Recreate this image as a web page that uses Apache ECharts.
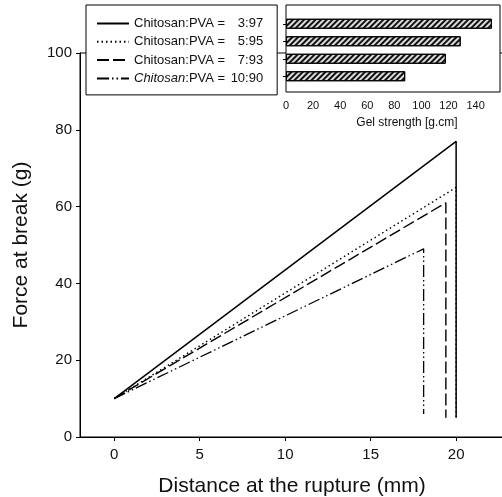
<!DOCTYPE html>
<html>
<head>
<meta charset="utf-8">
<script src="https://cdn.jsdelivr.net/npm/echarts@6/dist/echarts.min.js"></script>
<style>html,body{margin:0;padding:0;background:#fff}#c{width:502px;height:497px}</style>
</head>
<body>
<div id="c"></div>
<script>
// ---- data ----
const ratios = ['3:97', '5:95', '7:93', '10:90'];
const curve397 = [[0, 10], [20, 77], [20, 5]];
const curve595 = [[0, 10], [20, 65], [20, 5]];
const curve793 = [[0, 10], [19.4, 61], [19.4, 5]];
const curve1090 = [[0, 10], [18.1, 49], [18.1, 6]];
const gelStrength = [152, 129, 118, 88];
const xTicks = [0, 5, 10, 15, 20];
const yTicks = [0, 20, 40, 60, 80, 100];

const FONT = 'Liberation Sans, Arial, sans-serif';
const curves = [curve397, curve595, curve793, curve1090];
const dashes = ['solid', [1.5, 3], [12, 4], [12, 3, 1.5, 3, 1.5, 3]];
const widths = [1.5, 1.4, 1.4, 1.3];
const names = ratios.map(r => 'Chitosan:PVA = ' + r);

const chart = echarts.init(document.getElementById('c'), null, {renderer: 'canvas'});
const option = {
  backgroundColor: '#fff',
  animation: false,
  grid: [
    {left: 80, top: 53, right: -2, bottom: 60, show: true, borderColor: '#000', borderWidth: 1, backgroundColor: 'transparent', outerBoundsMode: 'none', containLabel: false},
    {left: 286, top: 15, width: 214, height: 70, outerBoundsMode: 'none', containLabel: false}
  ],
  xAxis: [
    {
      type: 'value', gridIndex: 0, min: -2, max: 22.8,
      name: 'Distance at the rupture (mm)', nameLocation: 'middle', nameGap: 39,
      nameTextStyle: {fontFamily: FONT, fontSize: 21, color: '#111'},
      axisLine: {onZero: false, lineStyle: {color: '#000', width: 1}},
      axisTick: {show: true, inside: false, length: 4, customValues: xTicks, lineStyle: {color: '#000'}},
      axisLabel: {customValues: xTicks, fontFamily: FONT, fontSize: 15, color: '#111', margin: 10},
      splitLine: {show: false}
    },
    {
      type: 'value', gridIndex: 1, min: 0, max: 158, interval: 20, offset: 7,
      name: 'Gel strength [g.cm]', nameLocation: 'middle', nameGap: 25,
      nameTextStyle: {fontFamily: FONT, fontSize: 12, color: '#111', padding: [0, 0, 0, 28]},
      axisLine: {show: false},
      axisTick: {show: false},
      axisLabel: {fontFamily: FONT, fontSize: 11, color: '#111', margin: 8, showMaxLabel: false},
      splitLine: {show: false}
    }
  ],
  yAxis: [
    {
      type: 'value', gridIndex: 0, min: 0, max: 100, interval: 20,
      name: 'Force at break (g)', nameLocation: 'middle', nameGap: 48,
      nameTextStyle: {fontFamily: FONT, fontSize: 21, color: '#111'},
      axisLine: {show: true, onZero: false, lineStyle: {color: '#000', width: 1}},
      axisTick: {show: true, inside: false, length: 4, lineStyle: {color: '#000'}},
      axisLabel: {fontFamily: FONT, fontSize: 15, color: '#111', margin: 8},
      splitLine: {show: false}
    },
    {
      type: 'category', gridIndex: 1, data: ratios, inverse: true,
      axisLine: {show: false},
      axisTick: {show: true, inside: false, length: 3, alignWithLabel: true, lineStyle: {color: '#000'}},
      axisLabel: {show: false},
      splitLine: {show: false}
    }
  ],
  legend: {
    left: 86, top: 5, orient: 'vertical',
    padding: [12, 14, 10, 10],
    itemWidth: 32, itemHeight: 12, itemGap: 5.3,
    backgroundColor: '#fff', borderColor: '#000', borderWidth: 1,
    borderRadius: 0, z: 10,
    itemStyle: {opacity: 0},
    lineStyle: {opacity: 1},
    data: names,
    formatter: function (n) {
      const r = n.split('= ')[1];
      if (r === '10:90') return '{i|Chitosan}{a|:PVA =}{b|' + r + '}';
      return '{a|Chitosan:PVA =}{b|' + r + '}';
    },
    textStyle: {
      fontFamily: FONT, fontSize: 13, color: '#111',
      rich: {
        a: {fontFamily: FONT, fontSize: 13, color: '#111'},
        i: {fontFamily: FONT, fontSize: 13, color: '#111', fontStyle: 'italic'},
        b: {fontFamily: FONT, fontSize: 13, color: '#111', width: 38, align: 'right'}
      }
    }
  },
  graphic: [
    {type: 'rect', shape: {x: 286, y: 5, width: 214, height: 87}, style: {fill: '#fff', stroke: '#000', lineWidth: 1}, z: 1, silent: true}
  ],
  series: curves.map((d, i) => ({
    name: names[i], type: 'line', xAxisIndex: 0, yAxisIndex: 0,
    data: d, symbol: 'none', showSymbol: false, z: 3,
    lineStyle: {color: '#000', width: widths[i], type: dashes[i]},
    itemStyle: {color: '#000'}
  })).concat([{
    type: 'bar', xAxisIndex: 1, yAxisIndex: 1, data: gelStrength, barWidth: 10, z: 5,
    itemStyle: {
      color: '#dcdcdc', borderColor: '#000', borderWidth: 1,
      decal: {symbol: 'rect', symbolSize: 1, dashArrayX: [1, 0], dashArrayY: [1.8, 2], rotation: -Math.PI / 4, color: '#111', backgroundColor: 'rgba(0,0,0,0)'}
    }
  }])
};
chart.setOption(option);
</script>
</body>
</html>
